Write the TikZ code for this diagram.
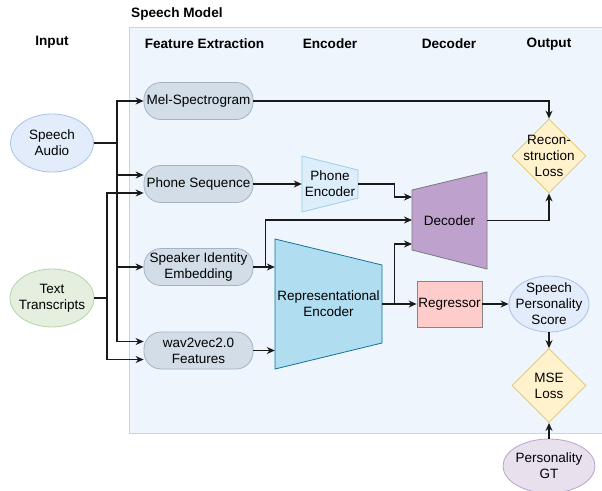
\documentclass[tikz,border=0pt]{standalone}
\usepackage{fontspec}
\setmainfont{Liberation Sans}
\usepackage{xcolor}
\usetikzlibrary{shapes.geometric,arrows.meta}

\definecolor{panelfill}{HTML}{EEF5FD}
\definecolor{panelline}{HTML}{C5D6EA}
\definecolor{bluefill}{HTML}{E3ECFA}
\definecolor{blueline}{HTML}{A9C2E6}
\definecolor{greenfill}{HTML}{E4EFDF}
\definecolor{greenline}{HTML}{B5D3A5}
\definecolor{pillfill}{HTML}{D2DDE8}
\definecolor{pillline}{HTML}{A3B3C4}
\definecolor{phfill}{HTML}{DCEEFA}
\definecolor{phline}{HTML}{9DCDEB}
\definecolor{repfill}{HTML}{B1DDF0}
\definecolor{repline}{HTML}{10739E}
\definecolor{decfill}{HTML}{BEA2CD}
\definecolor{decline}{HTML}{7A7A7A}
\definecolor{regfill}{HTML}{FFCCCC}
\definecolor{regline}{HTML}{858585}
\definecolor{lossfill}{HTML}{FFF2CC}
\definecolor{lossline}{HTML}{E0C56E}
\definecolor{gtfill}{HTML}{E9E0EE}
\definecolor{gtline}{HTML}{B9A4C8}
\definecolor{wire}{HTML}{1A1A1A}

\tikzset{
  every node/.style={font=\fontsize{13.5}{16}\selectfont, align=center, inner sep=0pt},
  heading/.style={font=\fontsize{13.6}{16}\selectfont\bfseries},
  ovalshape/.style={ellipse, line width=0.8pt},
  pill/.style={rectangle, rounded corners=17pt, fill=pillfill, draw=pillline, line width=0.8pt,
    minimum width=109pt, minimum height=37pt},
  shapebox/.style={rectangle, minimum width=#1},
  lossdiam/.style={diamond, aspect=1, fill=lossfill, draw=lossline, line width=0.8pt,
    minimum width=74pt, minimum height=74pt},
  wireline/.style={draw=wire, line width=1.15pt},
  arr/.style={wireline, -{Stealth[length=8pt,width=7pt]}}
}

\begin{document}
\begin{tikzpicture}[x=1pt,y=-1pt]
\useasboundingbox (0,0) rectangle (602,490);
\filldraw[fill=panelfill, draw=panelline, line width=0.8pt] (129,27) rectangle (602.5,433);

\node[heading, anchor=west] (tmodel) at (131,14) {Speech Model};
\node[heading] (tinput) at (52,42) {Input};
\node[heading] (tfeat) at (204.5,44) {Feature Extraction};
\node[heading] (tenc) at (330,44) {Encoder};
\node[heading] (tdec) at (449,44) {Decoder};
\node[heading] (tout) at (549,44) {Output};

\node[ovalshape, fill=bluefill, draw=blueline, minimum width=83pt, minimum height=58pt] (audio) at (52,143) {};
\node (audiotext) at (audio) {Speech\\Audio};
\node[ovalshape, fill=greenfill, draw=greenline, minimum width=84pt, minimum height=58pt] (txt) at (52,298) {};
\node (txttext) at (txt) {Text\\Transcripts};

\node[pill] (mel) at (198.5,101) {Mel-Spectrogram};
\node[pill] (phone) at (198.5,184) {Phone Sequence};
\node[pill] (spk) at (198.5,267) {Speaker Identity\\Embedding};
\node[pill] (wav) at (198.5,350.5) {wav2vec2.0\\Features};

\filldraw[fill=phfill, draw=phline, line width=0.8pt] (302,156) -- (358,170) -- (358,198) -- (302,212) -- cycle;
\node[shapebox=56pt, minimum height=56pt] (phenc) at (330,184) {Phone\\Encoder};
\filldraw[fill=repfill, draw=repline, line width=0.8pt] (275,239) -- (382,265) -- (382,343) -- (275,369) -- cycle;
\node[shapebox=107pt, minimum height=130pt] (rep) at (328.5,304) {Representational\\Encoder};
\filldraw[fill=decfill, draw=decline, line width=0.8pt] (412,190) -- (487,172) -- (487,269) -- (412,250) -- cycle;
\node[shapebox=75pt, minimum height=97pt] (dec) at (449.5,220.5) {Decoder};

\node[rectangle, fill=regfill, draw=regline, line width=0.8pt, minimum width=65pt, minimum height=46pt] (reg) at (449.5,304) {Regressor};
\node[ovalshape, fill=bluefill, draw=blueline, minimum width=80pt, minimum height=56pt] (sps) at (549,304) {};
\node (spstext) at (sps) {Speech\\Personality\\Score};

\node[lossdiam] (rec) at (549,156) {};
\node (rectext) at (rec) {Recon-\\struction\\Loss};
\node[lossdiam] (mse) at (549,385.5) {};
\node (msetext) at (mse) {MSE\\Loss};
\node[ovalshape, fill=gtfill, draw=gtline, minimum width=92pt, minimum height=54pt] (gt) at (549,466) {};
\node (gttext) at (gt) {Personality\\GT};

\coordinate (ja) at (117,143);
\coordinate (jt) at (107,298);
\coordinate (d1) at (412,197);
\coordinate (d2) at (412,220);
\coordinate (d3) at (412,244);

\draw[wireline] (audio) -- (ja);
\draw[arr] (ja) |- (mel);
\draw[arr] (ja) |- ([yshift=9pt]phone.west);
\draw[arr] (ja) |- (spk);
\draw[arr] (ja) |- ([yshift=9pt]wav.west);
\draw[wireline] (txt) -- (jt);
\draw[arr] (jt) |- ([yshift=-9pt]phone.west);
\draw[arr] (jt) |- ([yshift=-9pt]wav.west);

\draw[arr] (mel) -| (rec);
\draw[arr] (phone) -- (phenc);
\draw[arr] (phenc.east) -- ++(36,0) |- (d1);
\draw[arr] (spk.east) -- ++(12.5,0) |- (d2);
\draw[arr] (spk) -- (rep.west |- spk.east);
\draw[arr] (wav) -- (rep.west |- wav.east);
\draw[arr] (rep.east) -- ++(12,0) |- (d3);
\draw[arr] (rep) -- (reg);
\draw[arr] (dec) -| (rec);
\draw[arr] (reg) -- (sps);
\draw[arr] (sps) -- (mse);
\draw[arr] (gt) -- (mse);
\end{tikzpicture}
\end{document}
